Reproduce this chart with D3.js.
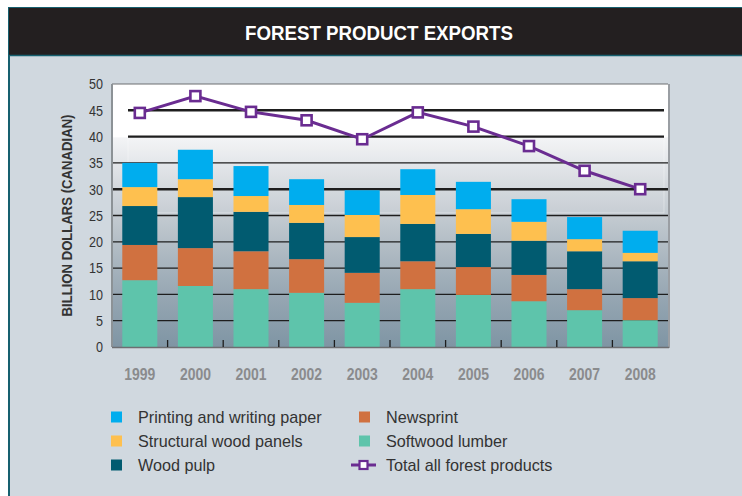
<!DOCTYPE html>
<html>
<head>
<meta charset="utf-8">
<script src="https://cdn.jsdelivr.net/npm/d3@7"></script>
<style>
  html, body { margin: 0; padding: 0; background: #ffffff; }
  svg { display: block; }
</style>
</head>
<body>
<script>
// Canadian forest product exports, billions of dollars
const years = ["1999", "2000", "2001", "2002", "2003", "2004", "2005", "2006", "2007", "2008"];
const softwoodLumber = [12.7, 11.6, 11.0, 10.3, 8.4, 11.0, 9.9, 8.7, 7.0, 5.1];
const newsprint = [6.7, 7.2, 7.2, 6.4, 5.7, 5.3, 5.3, 5.0, 4.0, 4.2];
const woodPulp = [7.4, 9.7, 7.5, 6.9, 6.8, 7.1, 6.3, 6.5, 7.2, 7.0];
const structuralPanels = [3.6, 3.4, 3.0, 3.4, 4.2, 5.5, 4.7, 3.6, 2.3, 1.6];
const printingPaper = [4.6, 5.6, 5.7, 4.9, 4.7, 4.9, 5.2, 4.3, 4.2, 4.2];
const totalForest = [44.5, 47.7, 44.7, 43.1, 39.5, 44.6, 41.9, 38.2, 33.5, 30.0];
const yTicks = [0, 5, 10, 15, 20, 25, 30, 35, 40, 45, 50];

const W = 742, H = 496;
const plot = { left: 112, right: 668, top: 84, bottom: 347 };
const sans = "'Liberation Sans', Arial, Helvetica, sans-serif";

const svg = d3.select("body").append("svg").attr("width", W).attr("height", H);
const defs = svg.append("defs");

// Outer panel and title band
svg.append("rect").attr("x", 9).attr("y", 8).attr("width", 760).attr("height", 520)
  .attr("fill", "#d0d8df").attr("stroke", "#17606f").attr("stroke-width", 2);
svg.append("rect").attr("x", 9).attr("y", 8).attr("width", 760).attr("height", 47)
  .attr("fill", "#231f20");
svg.append("line").attr("x1", 9).attr("x2", 760).attr("y1", 55.5).attr("y2", 55.5)
  .attr("stroke", "#17606f").attr("stroke-width", 1.5);
// Condensed headline: glyphs squeezed to a fixed run length
svg.append("text").attr("x", 379).attr("y", 39.5).attr("text-anchor", "middle")
  .attr("fill", "#ffffff").attr("font-family", sans)
  .attr("font-weight", "bold").attr("font-size", 21)
  .attr("textLength", 268).attr("lengthAdjust", "spacingAndGlyphs")
  .text("FOREST PRODUCT EXPORTS");

// Scales
const x = d3.scaleBand().domain(years).range([plot.left, plot.right])
  .paddingInner(0.37).paddingOuter(0.185);
const y = d3.scaleLinear().domain([0, 50]).range([plot.bottom, plot.top]);

// Plot background: white at the top fading to slate at the base
const grad = defs.append("linearGradient").attr("id", "plotBg")
  .attr("x1", 0).attr("x2", 0).attr("y1", 0).attr("y2", 1);
[[0, "#ffffff"], [0.2, "#ffffff"], [0.205, "#f3f4f6"], [0.4, "#d2d7dc"],
 [0.6, "#b4bec6"], [0.8, "#97a7b3"], [1, "#7f95a4"]]
  .forEach(([o, c]) => grad.append("stop").attr("offset", o).attr("stop-color", c));
svg.append("rect").attr("x", plot.left).attr("y", plot.top)
  .attr("width", plot.right - plot.left).attr("height", plot.bottom - plot.top)
  .attr("fill", "url(#plotBg)");

// Faint highlight panel behind the upper bars
svg.append("rect").attr("x", plot.left + 16).attr("y", y(40))
  .attr("width", plot.right - plot.left - 20).attr("height", y(25.5) - y(40))
  .attr("fill", "#ffffff").attr("fill-opacity", 0.06)
  .attr("stroke", "#ffffff").attr("stroke-opacity", 0.35).attr("stroke-width", 1);

// Horizontal gridlines
const heavy = new Set([30, 40, 45]);
svg.append("g").selectAll("line").data(yTicks.filter(d => d > 0 && d < 50)).join("line")
  .attr("x1", d => d >= 40 ? plot.left + 16 : plot.left)
  .attr("x2", d => d >= 40 ? plot.right - 4 : plot.right)
  .attr("y1", d => y(d)).attr("y2", d => y(d))
  .attr("stroke", "#1e1e1e")
  .attr("stroke-width", d => heavy.has(d) ? 2.4 : 1.3);

// Stacked bars
const rows = years.map((yr, i) => ({
  year: yr,
  lumber: softwoodLumber[i],
  newsprint: newsprint[i],
  pulp: woodPulp[i],
  panels: structuralPanels[i],
  paper: printingPaper[i]
}));
const keys = ["lumber", "newsprint", "pulp", "panels", "paper"];
const colors = {
  lumber: "#5ec4ab",
  newsprint: "#d07140",
  pulp: "#015b70",
  panels: "#fec04f",
  paper: "#00adee"
};
const stacked = d3.stack().keys(keys)(rows);
svg.append("g").selectAll("g").data(stacked).join("g")
  .attr("fill", d => colors[d.key])
  .selectAll("rect").data(d => d).join("rect")
  .attr("x", d => x(d.data.year))
  .attr("width", x.bandwidth())
  .attr("y", d => y(d[1]))
  .attr("height", d => y(d[0]) - y(d[1]));

// Plot frame
svg.append("line").attr("x1", plot.left).attr("x2", plot.right).attr("y1", plot.top).attr("y2", plot.top)
  .attr("stroke", "#6d6e71").attr("stroke-width", 1);
svg.append("line").attr("x1", plot.right + 1).attr("x2", plot.right + 1).attr("y1", plot.top).attr("y2", plot.bottom + 1)
  .attr("stroke", "#9a9ea3").attr("stroke-width", 2);
svg.append("line").attr("x1", plot.left).attr("x2", plot.left).attr("y1", plot.top).attr("y2", plot.bottom)
  .attr("stroke", "#8c9296").attr("stroke-width", 2);
svg.append("line").attr("x1", plot.left).attr("x2", plot.right + 1).attr("y1", plot.bottom + 0.5).attr("y2", plot.bottom + 0.5)
  .attr("stroke", "#6d6e71").attr("stroke-width", 1.5);

// Category separators on the baseline
const step = x.step();
svg.append("g").selectAll("line").data(years.slice(1)).join("line")
  .attr("x1", d => x(d) - (step - x.bandwidth()) / 2)
  .attr("x2", d => x(d) - (step - x.bandwidth()) / 2)
  .attr("y1", plot.bottom).attr("y2", plot.bottom - 7)
  .attr("stroke", "#1e1e1e").attr("stroke-width", 1.3);

// Axes (condensed numerals via fixed text length)
const yAxis = svg.append("g").attr("transform", `translate(${plot.left},0)`)
  .call(d3.axisLeft(y).tickValues(yTicks).tickSize(0).tickPadding(9));
yAxis.select(".domain").remove();
yAxis.selectAll("text").attr("font-family", sans).attr("font-size", 15).attr("fill", "#333333")
  .attr("textLength", d => String(d).length * 7).attr("lengthAdjust", "spacingAndGlyphs");

const xAxis = svg.append("g").attr("transform", `translate(0,${plot.bottom})`)
  .call(d3.axisBottom(x).tickSize(0).tickPadding(21));
xAxis.select(".domain").remove();
xAxis.selectAll("text").attr("font-family", sans).attr("font-weight", "bold")
  .attr("font-size", 16.5).attr("fill", "#8a8b8d")
  .attr("textLength", 31).attr("lengthAdjust", "spacingAndGlyphs");

svg.append("text")
  .attr("transform", `translate(72,${(plot.top + plot.bottom) / 2}) rotate(-90)`)
  .attr("text-anchor", "middle")
  .attr("font-family", sans).attr("font-weight", "bold").attr("font-size", 15.5)
  .attr("textLength", 202).attr("lengthAdjust", "spacingAndGlyphs")
  .attr("fill", "#333333").text("BILLION DOLLARS (CANADIAN)");

// Total line with square markers
const purple = "#6a2c91";
const cx = d => x(d) + x.bandwidth() / 2;
const totalData = years.map((yr, i) => ({ year: yr, v: totalForest[i] }));
svg.append("path").datum(totalData)
  .attr("fill", "none").attr("stroke", purple).attr("stroke-width", 3)
  .attr("d", d3.line().x(d => cx(d.year)).y(d => y(d.v)));
svg.append("g").selectAll("rect").data(totalData).join("rect")
  .attr("x", d => cx(d.year) - 5).attr("y", d => y(d.v) - 5)
  .attr("width", 10).attr("height", 10)
  .attr("fill", "#ffffff").attr("stroke", purple).attr("stroke-width", 2.6);

// Legend
const legendItems = [
  { label: "Printing and writing paper", key: "paper", col: 0, row: 0 },
  { label: "Structural wood panels", key: "panels", col: 0, row: 1 },
  { label: "Wood pulp", key: "pulp", col: 0, row: 2 },
  { label: "Newsprint", key: "newsprint", col: 1, row: 0 },
  { label: "Softwood lumber", key: "lumber", col: 1, row: 1 },
  { label: "Total all forest products", key: "total", col: 1, row: 2 }
];
const colX = [111, 359];
const rowY = [417, 441, 465];
const lg = svg.append("g").selectAll("g").data(legendItems).join("g")
  .attr("transform", d => `translate(${colX[d.col]},${rowY[d.row]})`);
lg.filter(d => d.key !== "total").append("rect")
  .attr("x", 0).attr("y", -5.5).attr("width", 11).attr("height", 11)
  .attr("fill", d => colors[d.key]);
const tl = lg.filter(d => d.key === "total");
tl.append("line").attr("x1", -8).attr("x2", 17).attr("y1", 0).attr("y2", 0)
  .attr("stroke", purple).attr("stroke-width", 3);
tl.append("rect").attr("x", 0.5).attr("y", -4).attr("width", 8).attr("height", 8)
  .attr("fill", "#ffffff").attr("stroke", purple).attr("stroke-width", 2.2);
lg.append("text").attr("x", 27).attr("y", 5.5)
  .attr("font-family", sans).attr("font-size", 16.2)
  .attr("fill", "#333333").text(d => d.label);
</script>
</body>
</html>
